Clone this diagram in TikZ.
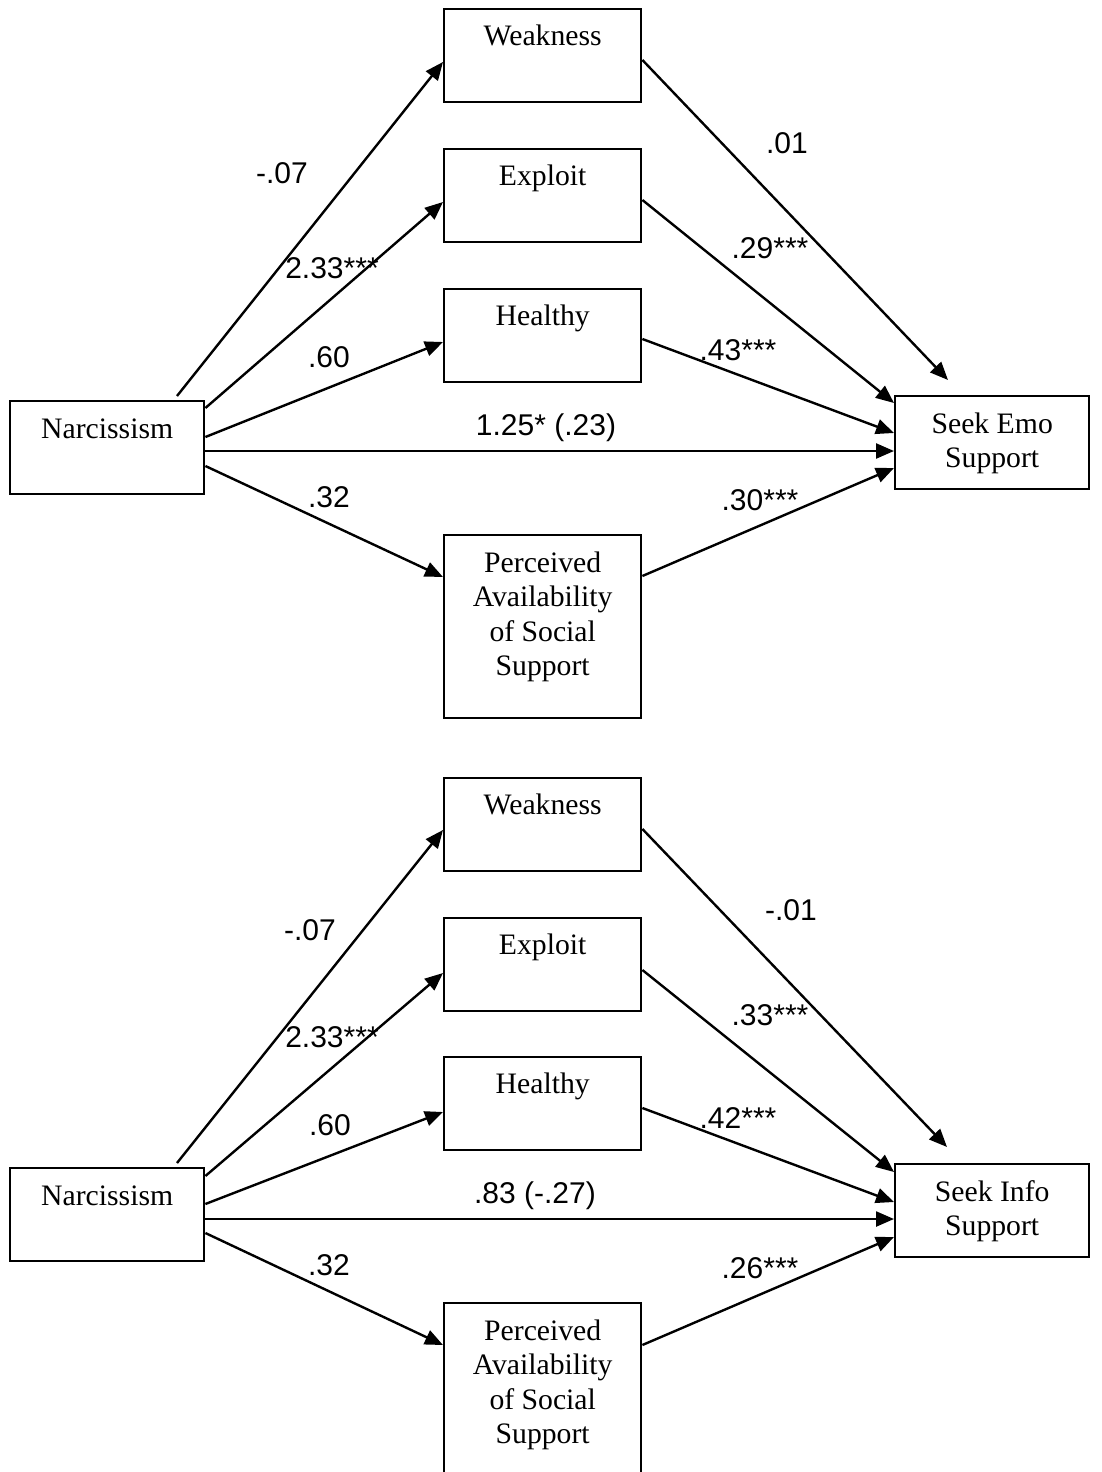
\documentclass[tikz,border=0pt]{standalone}
\usepackage{fontspec}
\setmainfont{Liberation Serif}
\newfontfamily\coeffont{Liberation Sans}
\usetikzlibrary{arrows.meta,calc}

\tikzset{
  boxshape/.style={draw, line width=1.2pt, rectangle, inner sep=0pt, anchor=north west},
  stdbox/.style={boxshape, minimum width=98.5pt, minimum height=46.5pt},
  narbox/.style={boxshape, minimum width=97pt, minimum height=46.5pt},
  tallbox/.style={boxshape, minimum width=98.5pt, minimum height=91.5pt},
  boxtext/.style={inner sep=0pt, anchor=base, align=center,
    font=\fontsize{14.85pt}{17.25pt}\selectfont},
  coef/.style={inner sep=0pt, anchor=base, font=\coeffont\fontsize{15pt}{18pt}\selectfont},
  path/.style={line width=1.2pt, -{Triangle[length=9pt,width=7.5pt]}},
}

\begin{document}
\begin{tikzpicture}[x=0.5pt, y=-0.5pt]
\useasboundingbox (0,0) rectangle (1102,1472);
\clip (0,0) rectangle (1102,1472);

% ---------------- Model 1: emotional support ----------------
\node[stdbox]  (weakA) at (443,8)   {};
\node[stdbox]  (explA) at (443,148) {};
\node[stdbox]  (heaA)  at (443,288) {};
\node[tallbox] (percA) at (443,534) {};
\node[narbox]  (narA)  at (9,400)   {};
\node[narbox]  (seekA) at (894,395) {};

% multi-line labels are anchored at the baseline of their last line
\node[boxtext] (weakAt) at ($(weakA.north)+(0,37)$) {Weakness};
\node[boxtext] (explAt) at ($(explA.north)+(0,37)$) {Exploit};
\node[boxtext] (heaAt)  at ($(heaA.north)+(0,37)$)  {Healthy};
\node[boxtext] (percAt) at ($(percA.north)+(0,141.5)$) {Perceived\\Availability\\of Social\\Support};
\node[boxtext] (narAt)  at ($(narA.north)+(0,38)$)  {Narcissism};
\node[boxtext] (seekAt) at ($(seekA.north)+(0,72.5)$) {Seek Emo\\Support};

\draw[path] ($(narA.north west)+(168,-4)$) -- ($(weakA.north west)+(0,54)$);
\draw[path] ($(narA.north east)+(0,8)$)   -- ($(explA.north west)+(0,54)$);
\draw[path] ($(narA.north east)+(0,37)$)  -- ($(heaA.north west)+(0,54)$);
\draw[path] ($(narA.north east)+(0,51)$)  -- ($(seekA.north west)+(0,56)$);
\draw[path] ($(narA.north east)+(0,66)$)  -- ($(percA.north west)+(0,43)$);
\draw[path] ($(weakA.north east)+(0,52)$) -- ($(seekA.north west)+(54,-15)$);
\draw[path] ($(explA.north east)+(0,52)$) -- ($(seekA.north west)+(0,8)$);
\draw[path] ($(heaA.north east)+(0,51)$)  -- ($(seekA.north west)+(0,38)$);
\draw[path] ($(percA.north east)+(0,42)$) -- ($(seekA.north west)+(0,73)$);

\node[coef] (cA1) at (282,183) {-.07};
\node[coef] (cA2) at (332,278) {2.33***};
\node[coef] (cA3) at (329,367) {.60};
\node[coef] (cA4) at (546,435) {1.25* (.23)};
\node[coef] (cA5) at (329,507) {.32};
\node[coef] (cA6) at (787,153) {.01};
\node[coef] (cA7) at (770,258) {.29***};
\node[coef] (cA8) at (738,360) {.43***};
\node[coef] (cA9) at (760,510) {.30***};

% ---------------- Model 2: informational support ----------------
\node[stdbox]  (weakB) at (443,777)  {};
\node[stdbox]  (explB) at (443,917)  {};
\node[stdbox]  (heaB)  at (443,1056) {};
\node[tallbox] (percB) at (443,1302) {};
\node[narbox]  (narB)  at (9,1167)   {};
\node[narbox]  (seekB) at (894,1163) {};

\node[boxtext] (weakBt) at ($(weakB.north)+(0,37)$) {Weakness};
\node[boxtext] (explBt) at ($(explB.north)+(0,37)$) {Exploit};
\node[boxtext] (heaBt)  at ($(heaB.north)+(0,37)$)  {Healthy};
\node[boxtext] (percBt) at ($(percB.north)+(0,141.5)$) {Perceived\\Availability\\of Social\\Support};
\node[boxtext] (narBt)  at ($(narB.north)+(0,38)$)  {Narcissism};
\node[boxtext] (seekBt) at ($(seekB.north)+(0,72.5)$) {Seek Info\\Support};

\draw[path] ($(narB.north west)+(168,-4)$) -- ($(weakB.north west)+(0,53)$);
\draw[path] ($(narB.north east)+(0,9)$)   -- ($(explB.north west)+(0,56)$);
\draw[path] ($(narB.north east)+(0,37)$)  -- ($(heaB.north west)+(0,56)$);
\draw[path] ($(narB.north east)+(0,52)$)  -- ($(seekB.north west)+(0,56)$);
\draw[path] ($(narB.north east)+(0,66)$)  -- ($(percB.north west)+(0,43)$);
\draw[path] ($(weakB.north east)+(0,52)$) -- ($(seekB.north west)+(53,-16)$);
\draw[path] ($(explB.north east)+(0,53)$) -- ($(seekB.north west)+(0,9)$);
\draw[path] ($(heaB.north east)+(0,52)$)  -- ($(seekB.north west)+(0,39)$);
\draw[path] ($(percB.north east)+(0,43)$) -- ($(seekB.north west)+(0,74)$);

\node[coef] (cB1) at (310,940)  {-.07};
\node[coef] (cB2) at (332,1047) {2.33***};
\node[coef] (cB3) at (330,1135) {.60};
\node[coef] (cB4) at (535,1203) {.83 (-.27)};
\node[coef] (cB5) at (329,1275) {.32};
\node[coef] (cB6) at (791,920)  {-.01};
\node[coef] (cB7) at (770,1025) {.33***};
\node[coef] (cB8) at (738,1128) {.42***};
\node[coef] (cB9) at (760,1278) {.26***};
\end{tikzpicture}
\end{document}
